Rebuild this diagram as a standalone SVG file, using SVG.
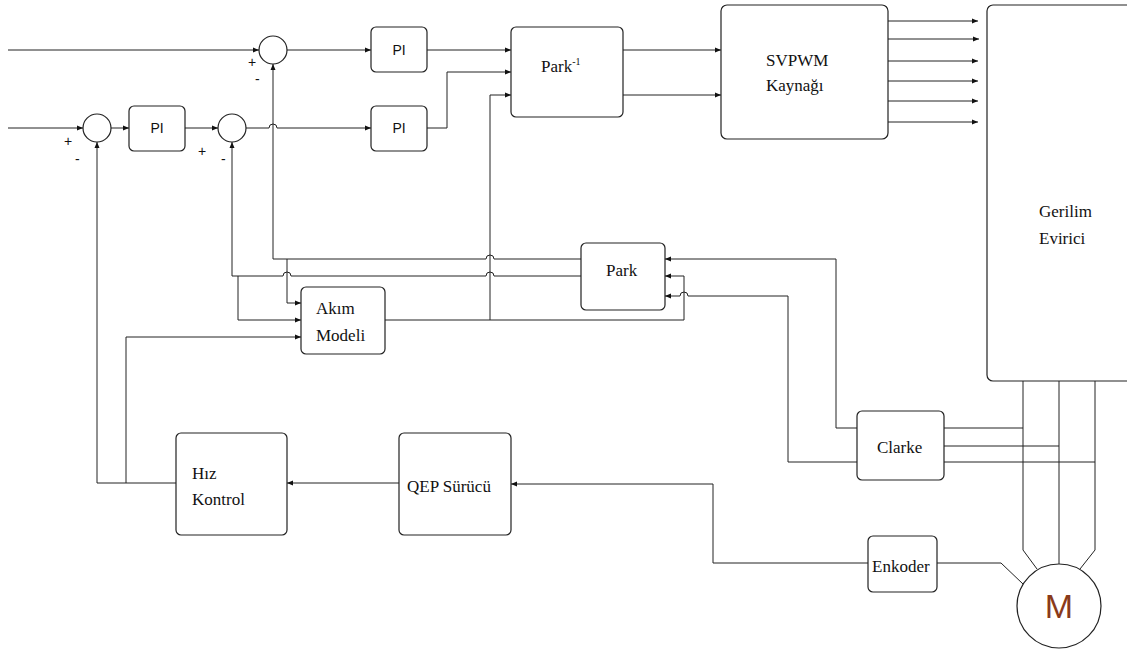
<svg xmlns="http://www.w3.org/2000/svg" width="1127" height="651" viewBox="0 0 1127 651">
<style>
.box{fill:#fff;stroke:#222;stroke-width:1.2}
.sum{fill:#fff;stroke:#222;stroke-width:1.2}
.ln{fill:none;stroke:#222;stroke-width:1}
.arr{fill:none;stroke:#222;stroke-width:1;marker-end:url(#ah)}
.t{font-family:"Liberation Serif","Times New Roman",serif;font-size:17px;fill:#111}
.s{font-family:"Liberation Sans",Arial,sans-serif;font-size:14px;fill:#111}
</style>
<defs>
<marker id="ah" markerWidth="7" markerHeight="6" refX="6" refY="3" orient="auto" markerUnits="userSpaceOnUse">
<path d="M0,0.5 L6,3 L0,5.5 Z" fill="#111"/>
</marker>
</defs>
<rect width="1127" height="651" fill="#fff"/>
<g id="connectors">
<path class="arr" d="M8,50 H259"/>
<path class="arr" d="M8,128 H83"/>
<path class="arr" d="M111,128 H129"/>
<path class="arr" d="M185,128 H218"/>
<path class="arr" d="M246,128 H269 a4,4 0 0 1 8,0 H371"/>
<path class="arr" d="M287,50 H371"/>
<path class="arr" d="M427,50 H511"/>
<path class="arr" d="M427,128 H447 V72 H511"/>
<path class="arr" d="M623,50 H721"/>
<path class="arr" d="M623,95 H721"/>
<path class="arr" d="M888,21 H978"/>
<path class="arr" d="M888,39 H979"/>
<path class="arr" d="M888,61 H978"/>
<path class="arr" d="M888,81 H978"/>
<path class="arr" d="M888,101 H978"/>
<path class="arr" d="M888,122 H978"/>
<path class="arr" d="M581,259 H494 a4,4 0 0 0 -8,0 H273 V64"/>
<path class="arr" d="M287,259 V303 H301"/>
<path class="arr" d="M581,276 H494 a4,4 0 0 0 -8,0 H291 a4,4 0 0 0 -8,0 H232 V142"/>
<path class="arr" d="M238,276 V320 H301"/>
<path class="arr" d="M176,483 H97 V142"/>
<path class="arr" d="M126,483 V337 H301"/>
<path class="arr" d="M385,320 H684 V276 H665"/>
<path class="arr" d="M490,320 V95 H511"/>
<path class="arr" d="M857,428 H836 V259 H665"/>
<path class="arr" d="M857,462 H788 V296 H688 a4,4 0 0 0 -8,0 H665"/>
<path class="ln" d="M944,428 H1023"/>
<path class="ln" d="M944,446 H1059"/>
<path class="ln" d="M944,462 H1095"/>
<path class="ln" d="M1023,381 V550 L1037,569"/>
<path class="ln" d="M1059,381 V564"/>
<path class="ln" d="M1095,381 V550 L1080,569"/>
<path class="ln" d="M937,563 H1001 L1023,584"/>
<path class="arr" d="M868,563 H713 V484 H511"/>
<path class="arr" d="M399,483 H287"/>
</g>
<g id="sum1"><circle class="sum" cx="273" cy="50" r="14"/><text class="s" x="248" y="67">+</text><text class="s" x="255" y="84">-</text></g>
<g id="sum2"><circle class="sum" cx="97" cy="128" r="14"/><text class="s" x="64" y="146">+</text><text class="s" x="75" y="164">-</text></g>
<g id="sum3"><circle class="sum" cx="232" cy="128" r="14"/><text class="s" x="198" y="156">+</text><text class="s" x="221" y="164">-</text></g>
<g id="pi1"><rect class="box" x="129" y="106" width="56" height="45" rx="5"/><text class="s" x="157" y="133" text-anchor="middle">PI</text></g>
<g id="pi-top"><rect class="box" x="371" y="27" width="56" height="45" rx="5"/><text class="s" x="399" y="55" text-anchor="middle">PI</text></g>
<g id="pi-bottom"><rect class="box" x="371" y="106" width="56" height="45" rx="5"/><text class="s" x="399" y="133" text-anchor="middle">PI</text></g>
<g id="park-inv"><rect class="box" x="511" y="27" width="112" height="90" rx="5"/><text class="t" x="541" y="72">Park<tspan font-size="10" dy="-7">-1</tspan></text></g>
<g id="svpwm"><rect class="box" x="721" y="5" width="167" height="134" rx="6"/><text class="t" x="766" y="66">SVPWM</text><text class="t" x="766" y="91">Kaynağı</text></g>
<g id="evirici"><rect class="box" x="987" y="5" width="150" height="376" rx="6"/><text class="t" x="1039" y="217">Gerilim</text><text class="t" x="1039" y="244">Evirici</text></g>
<g id="park"><rect class="box" x="581" y="243" width="84" height="67" rx="5"/><text class="t" x="606" y="276">Park</text></g>
<g id="akim-modeli"><rect class="box" x="301" y="287" width="84" height="67" rx="5"/><text class="t" x="316" y="314">Akım</text><text class="t" x="316" y="341">Modeli</text></g>
<g id="hiz-kontrol"><rect class="box" x="176" y="433" width="111" height="102" rx="5"/><text class="t" x="192" y="479">Hız</text><text class="t" x="192" y="505">Kontrol</text></g>
<g id="qep"><rect class="box" x="399" y="433" width="112" height="102" rx="5"/><text class="t" x="407" y="492">QEP Sürücü</text></g>
<g id="clarke"><rect class="box" x="857" y="411" width="87" height="69" rx="5"/><text class="t" x="877" y="453">Clarke</text></g>
<g id="enkoder"><rect class="box" x="868" y="536" width="69" height="56" rx="5"/><text class="t" x="872" y="572">Enkoder</text></g>
<g id="motor"><circle class="sum" cx="1059" cy="606" r="42"/><text x="1059" y="618" text-anchor="middle" font-family="'Liberation Sans',Arial,sans-serif" font-size="34" fill="#8a3a1a">M</text></g>
</svg>
